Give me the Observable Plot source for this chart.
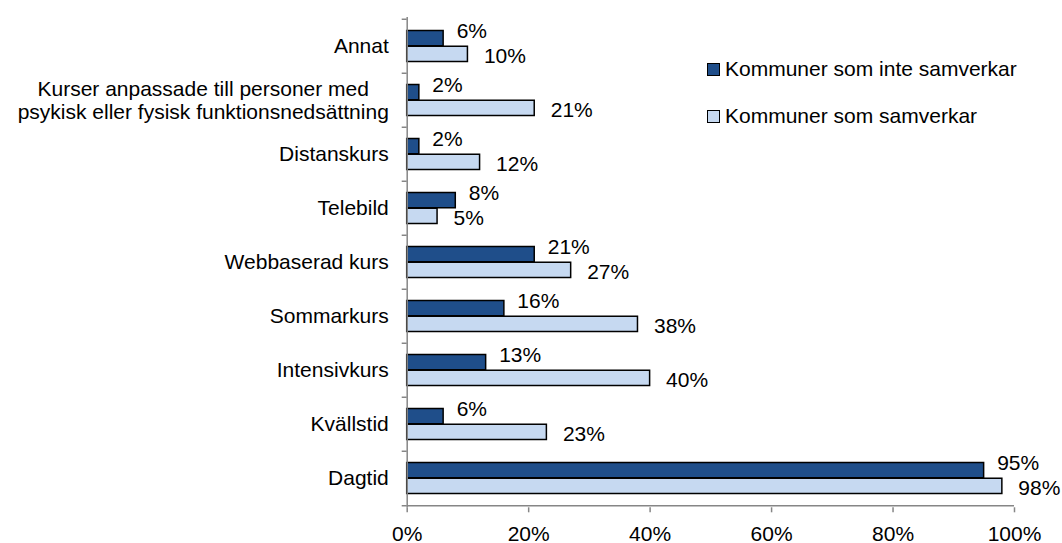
<!DOCTYPE html>
<html>
<head>
<meta charset="utf-8">
<script src="https://cdn.jsdelivr.net/npm/d3@7"></script>
<script src="https://cdn.jsdelivr.net/npm/@observablehq/plot@0.6"></script>
<style>
  html, body { margin: 0; padding: 0; background: #fff; }
  #wrap { position: relative; width: 1062px; height: 543px; font-family: "Liberation Sans", Arial, sans-serif; }
  .legend { position: absolute; left: 707px; font-size: 21px; color: #000; display: flex; align-items: center; white-space: nowrap; }
  .legend .sw { width: 11px; height: 11px; border: 1px solid #000; margin-right: 5px; box-sizing: content-box; }
</style>
</head>
<body>
<div id="wrap"></div>
<script>
const categories = [
  "Annat",
  "Kurser anpassade till personer med\npsykisk eller fysisk funktionsnedsättning",
  "Distanskurs",
  "Telebild",
  "Webbaserad kurs",
  "Sommarkurs",
  "Intensivkurs",
  "Kvällstid",
  "Dagtid"
];
const inteSamverkar = [6, 2, 2, 8, 21, 16, 13, 6, 95];
const samverkar = [10, 21, 12, 5, 27, 38, 40, 23, 98];
const seriesNames = ["Kommuner som inte samverkar", "Kommuner som samverkar"];
const seriesColors = ["#1F4E8A", "#C6D9F1"];
const xTicks = [0, 20, 40, 60, 80, 100];

const W = 1062, H = 543;
const mTop = 17, mBottom = 35.7, mLeft = 406.7, mRight = 48;
const bw = (H - mTop - mBottom) / categories.length;
const font = "21px 'Liberation Sans', Arial, sans-serif";

const dark = categories.map((c, i) => ({category: c, value: inteSamverkar[i]}));
const light = categories.map((c, i) => ({category: c, value: samverkar[i]}));

const axisGray = "#868686";

// multi-line category labels are centred on their widest line (as in the original)
const ctx = document.createElement("canvas").getContext("2d");
ctx.font = font;
const singleLine = categories.filter(c => !c.includes("\n"));
const multiLine = categories.filter(c => c.includes("\n"));
const multiMarks = multiLine.map(c => {
  const w = Math.max(...c.split("\n").map(s => ctx.measureText(s).width));
  return Plot.axisY([c], {tickSize: 0, tickPadding: 18.4, textAnchor: "middle", dx: -w / 2, lineHeight: 1.1, fill: "#000", fontSize: 21});
});

const chart = Plot.plot({
  width: W,
  height: H,
  marginTop: mTop,
  marginBottom: mBottom,
  marginLeft: mLeft,
  marginRight: mRight,
  style: {fontFamily: "'Liberation Sans', Arial, sans-serif", fontSize: "21px", color: "#000", background: "#fff", overflow: "visible"},
  x: {domain: [0, 100], label: null},
  y: {domain: categories, padding: 0, label: null},
  marks: [
    Plot.barX(dark, {x: "value", y: "category", fill: seriesColors[0], stroke: "#000", strokeWidth: 1.5, insetTop: 11.5, insetBottom: bw / 2}),
    Plot.barX(light, {x: "value", y: "category", fill: seriesColors[1], stroke: "#000", strokeWidth: 1.5, insetTop: bw / 2, insetBottom: 11.5}),
    Plot.text(dark, {x: "value", y: "category", text: d => d.value + "%", textAnchor: "start", dx: 13, dy: -15, fill: "#000", fontSize: 21}),
    Plot.text(light, {x: "value", y: "category", text: d => d.value + "%", textAnchor: "start", dx: 16, dy: 10, fill: "#000", fontSize: 21}),
    Plot.ruleX([0], {stroke: axisGray, strokeWidth: 1.5}),
    Plot.ruleY([categories[categories.length - 1]], {stroke: axisGray, strokeWidth: 1.5, dy: bw / 2}),
    Plot.axisY(singleLine, {tickSize: 0, tickPadding: 18.4, fill: "#000", fontSize: 21}),
    ...multiMarks,
    Plot.axisY({tickSize: 5, tickFormat: () => "", stroke: axisGray, strokeWidth: 1.5, dy: -bw / 2}),
    Plot.axisY([categories[categories.length - 1]], {tickSize: 5, tickFormat: () => "", stroke: axisGray, strokeWidth: 1.5, dy: bw / 2}),
    Plot.axisX({ticks: xTicks, tickSize: 5, tickPadding: 13, tickFormat: d => d + "%", stroke: axisGray, strokeWidth: 1.5, fill: "#000", fontSize: 21})
  ]
});

const wrap = document.getElementById("wrap");
wrap.appendChild(chart);

const legendTops = [57, 104];
seriesNames.forEach((name, i) => {
  const item = document.createElement("div");
  item.className = "legend";
  item.style.top = legendTops[i] + "px";
  const sw = document.createElement("span");
  sw.className = "sw";
  sw.style.background = seriesColors[i];
  const label = document.createElement("span");
  label.textContent = name;
  item.appendChild(sw);
  item.appendChild(label);
  wrap.appendChild(item);
});
</script>
</body>
</html>
